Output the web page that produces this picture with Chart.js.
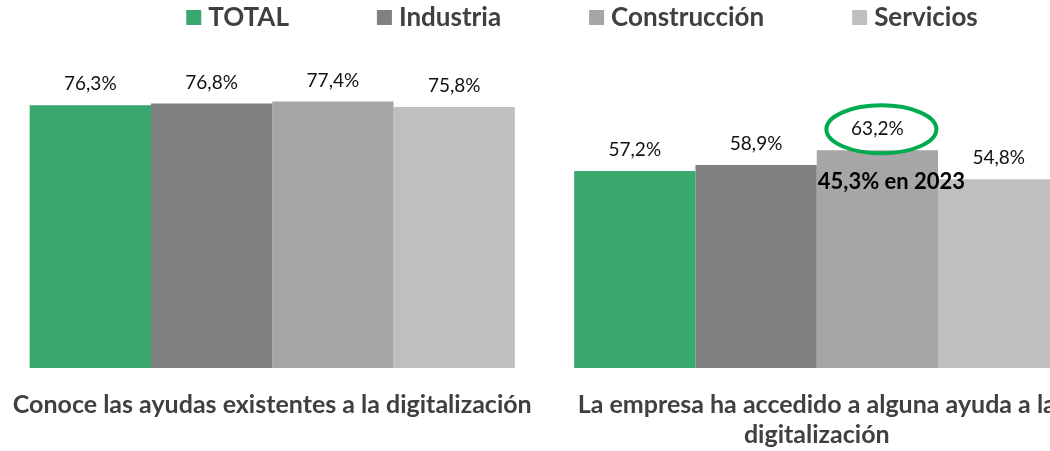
<!DOCTYPE html>
<html lang="es">
<head>
<meta charset="utf-8">
<title>Ayudas a la digitalización</title>
<script src="https://cdn.jsdelivr.net/npm/chart.js@4/dist/chart.umd.min.js"></script>
<style>
    html, body { margin: 0; padding: 0; background: #fff; overflow: hidden; }
    #wrap { width: 1090px; height: 451px; }
</style>
</head>
<body>
<div id="wrap"><canvas id="ayudasChart" width="1090" height="451"></canvas></div>
<script>
// Datos
const categorias = [
    'Conoce las ayudas existentes a la digitalización',
    ['La empresa ha accedido a alguna ayuda a la', 'digitalización']
];
const series = ['TOTAL', 'Industria', 'Construcción', 'Servicios'];
const valoresTotal = [76.3, 57.2];
const valoresIndustria = [76.8, 58.9];
const valoresConstruccion = [77.4, 63.2];
const valoresServicios = [75.8, 54.8];
const colores = ['#38A86F', '#808080', '#A6A6A6', '#BFBFBF'];

// Nota sobre Construcción (segunda categoría)
const notaTexto = '45,3% en 2023';
const notaSerie = 2;
const notaCategoria = 1;

const textoOscuro = '#404040';

function formatoPct(v) {
    return v.toFixed(1).replace('.', ',') + '%';
}

// Etiquetas de valor encima de cada barra
const etiquetasValor = {
    id: 'etiquetasValor',
    afterDatasetsDraw(chart) {
        const ctx = chart.ctx;
        ctx.save();
        ctx.font = '19px Lato';
        ctx.fillStyle = '#111';
        ctx.textAlign = 'center';
        ctx.textBaseline = 'middle';
        chart.data.datasets.forEach((ds, i) => {
            chart.getDatasetMeta(i).data.forEach((bar, j) => {
                ctx.fillText(formatoPct(ds.data[j]), bar.x, bar.y - 21);
            });
        });
        ctx.restore();
    }
};

// Óvalo verde y texto de comparación con 2023
const notaConstruccion = {
    id: 'notaConstruccion',
    afterDatasetsDraw(chart) {
        const bar = chart.getDatasetMeta(notaSerie).data[notaCategoria];
        if (!bar) return;
        const ctx = chart.ctx;
        ctx.save();
        ctx.strokeStyle = '#00AA4F';
        ctx.lineWidth = 4;
        ctx.beginPath();
        ctx.ellipse(bar.x + 4, bar.y - 21, 55, 24, 0, 0, Math.PI * 2);
        ctx.stroke();

        ctx.font = 'bold 22px Lato';
        ctx.fillStyle = '#000';
        ctx.textAlign = 'left';
        ctx.textBaseline = 'middle';
        ctx.fillText(notaTexto, bar.x - bar.width / 2 + 1, bar.y + 32);
        ctx.restore();
    }
};

// Leyenda dibujada a mano (espaciado amplio entre elementos)
const leyenda = {
    id: 'leyenda',
    afterDraw(chart) {
        const ctx = chart.ctx;
        const caja = 15, hueco = 7, separacion = 88;
        ctx.save();
        ctx.font = 'bold 26px Lato';
        ctx.textBaseline = 'middle';
        ctx.textAlign = 'left';
        const anchos = chart.data.datasets.map(ds => caja + hueco + ctx.measureText(ds.label).width);
        const total = anchos.reduce((a, b) => a + b, 0) + separacion * (anchos.length - 1);
        let x = 582 - total / 2;
        const y = 17;
        chart.data.datasets.forEach((ds, i) => {
            ctx.fillStyle = ds.backgroundColor;
            ctx.fillRect(x, y - 7, caja, 15);
            ctx.fillStyle = textoOscuro;
            ctx.fillText(ds.label, x + caja + hueco, y + 1);
            x += anchos[i] + separacion;
        });
        ctx.restore();
    }
};

const valores = [valoresTotal, valoresIndustria, valoresConstruccion, valoresServicios];

new Chart(document.getElementById('ayudasChart'), {
    type: 'bar',
    data: {
        labels: categorias,
        datasets: series.map((nombre, i) => ({
            label: nombre,
            data: valores[i],
            backgroundColor: colores[i],
            borderWidth: 0,
            barPercentage: 1,
            categoryPercentage: 0.891
        }))
    },
    options: {
        responsive: false,
        animation: false,
        layout: { padding: { top: 58, left: 0, right: 1, bottom: 0 } },
        plugins: {
            legend: { display: false },
            tooltip: { enabled: false }
        },
        scales: {
            x: {
                grid: { display: false, drawTicks: false },
                border: { display: false },
                // altura fija y sin margen lateral para las etiquetas largas
                afterFit(scale) {
                    scale.height = 83;
                    scale.paddingLeft = 0;
                    scale.paddingRight = 0;
                },
                ticks: {
                    color: textoOscuro,
                    padding: 22,
                    maxRotation: 0,
                    autoSkip: false,
                    font: { family: 'Lato', size: 25, weight: 'bold', lineHeight: 1.2 }
                }
            },
            y: {
                display: false,
                min: 0,
                max: 90
            }
        }
    },
    plugins: [etiquetasValor, notaConstruccion, leyenda]
});
</script>
</body>
</html>
